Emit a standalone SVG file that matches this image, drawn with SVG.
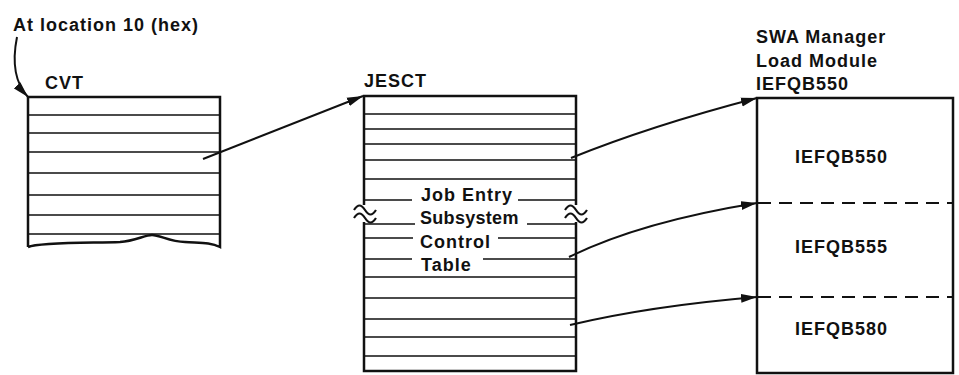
<svg xmlns="http://www.w3.org/2000/svg" width="959" height="375" viewBox="0 0 959 375">
<defs>
<style>
text{font-family:"Liberation Sans",Arial,sans-serif;font-weight:bold;font-size:18px;letter-spacing:1px;fill:#111}
.box{fill:none;stroke:#111;stroke-width:2.5}
.row{fill:none;stroke:#111;stroke-width:1.6}
.brk{fill:none;stroke:#111;stroke-width:2.2}
.dash{stroke:#111;stroke-width:1.8;stroke-dasharray:13 8}
.conn{fill:none;stroke:#111;stroke-width:2;marker-end:url(#ah)}
</style>
<marker id="ah" markerUnits="userSpaceOnUse" markerWidth="17" markerHeight="10" refX="16" refY="5" orient="auto"><path d="M0,0.5 L16,5 L0,9.5 Z" fill="#111"/></marker>
</defs>
<rect width="959" height="375" fill="#fff"/>

<g id="note">
<text x="13" y="31">At location 10 (hex)</text>
</g>

<g id="cvt">
<text x="45" y="89">CVT</text>
<path class="box" d="M28,247 V97 H220 V247 C210,242 200,243 185,242 C170,242 160,235 152,235 C145,235 135,241 120,242 C90,243 40,242 28,247"/>
<path class="row" d="M28,115 H220 M28,133 H220 M28,152 H220 M28,173 H220 M28,195 H220 M28,215 H220 M28,234 H220"/>
</g>

<g id="jesct">
<text x="364" y="87">JESCT</text>
<path class="box" d="M364,205 V96 H576 V205 M364,222 V371 H576 V222"/>
<path class="row" d="M364,114 H576 M364,129 H576 M364,144 H576 M364,160 H576 M364,179 H576 M364,277 H576 M364,298 H576 M364,319 H576 M364,337 H576 M364,356 H576"/>
<path class="row" d="M364,200 H412 M518,200 H576 M364,224 H415 M527,224 H576 M364,238 H413 M498,238 H576 M364,259 H412 M483,259 H576"/>
<path class="brk" d="M354,210 c4,-6 7,-6 11,0 s7,6 11,0 M354,218 c4,-6 7,-6 11,0 s7,6 11,0 M565,210 c4,-6 7,-6 11,0 s7,6 11,0 M565,218 c4,-6 7,-6 11,0 s7,6 11,0"/>
<text x="421" y="201">Job Entry</text>
<text x="420" y="224" style="letter-spacing:0.3px">Subsystem</text>
<text x="420" y="248">Control</text>
<text x="421" y="271">Table</text>
</g>

<g id="swa">
<text x="756" y="43">SWA Manager</text>
<text x="756" y="67">Load Module</text>
<text x="756" y="90">IEFQB550</text>
<rect class="box" x="757" y="98" width="196" height="275"/>
<line class="dash" x1="758" y1="203" x2="952" y2="203"/>
<line class="dash" x1="758" y1="297" x2="952" y2="297"/>
<text x="795" y="163">IEFQB550</text>
<text x="795" y="253">IEFQB555</text>
<text x="795" y="335">IEFQB580</text>
</g>

<g id="connectors">
<path class="conn" d="M17,37 C12,62 14,82 28,97"/>
<path class="conn" d="M203,159 L363,96"/>
<path class="conn" d="M571,158 Q650,126 757,98"/>
<path class="conn" d="M569,257 Q640,222 757,203"/>
<path class="conn" d="M570,325 Q650,306 757,297"/>
</g>
</svg>
